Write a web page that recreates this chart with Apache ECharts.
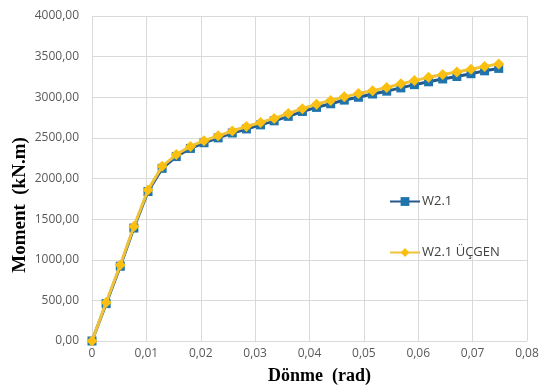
<!DOCTYPE html>
<html>
<head>
<meta charset="utf-8">
<script src="https://cdn.jsdelivr.net/npm/echarts@6/dist/echarts.min.js"></script>
<style>
  html, body { margin: 0; padding: 0; background: #fff; }
  #chart { width: 553px; height: 392px; }
</style>
</head>
<body>
<div id="chart"></div>
<script>
// Rotation (rad) of each load step
const rotation = [0, 0.0026, 0.0052, 0.0077, 0.0103, 0.0129, 0.0155, 0.0181, 0.0206, 0.0232,
  0.0258, 0.0284, 0.031, 0.0335, 0.0361, 0.0387, 0.0413, 0.0439, 0.0464, 0.049,
  0.0516, 0.0542, 0.0568, 0.0593, 0.0619, 0.0645, 0.0671, 0.0697, 0.0722, 0.0748]

// Moment (kN.m)
const w21 = [0, 460, 920, 1390, 1840, 2125, 2270, 2370, 2440, 2500,
  2560, 2610, 2660, 2710, 2765, 2825, 2875, 2920, 2965, 3000,
  3040, 3075, 3115, 3155, 3190, 3225, 3255, 3290, 3325, 3355]
const w21Ucgen = [0, 475, 935, 1410, 1860, 2150, 2295, 2395, 2465, 2525,
  2585, 2640, 2690, 2740, 2800, 2860, 2915, 2960, 3005, 3045,
  3080, 3120, 3165, 3205, 3245, 3280, 3310, 3345, 3380, 3410]

const xTickLabels = ["0", "0,01", "0,02", "0,03", "0,04", "0,05", "0,06", "0,07", "0,08"]
const yTickLabels = ["0,00", "500,00", "1000,00", "1500,00", "2000,00", "2500,00",
  "3000,00", "3500,00", "4000,00"]

const chart = echarts.init(document.getElementById("chart"))

const pairs = (ys) => rotation.map((x, i) => [x, ys[i]])
const tickFont = { color: "#595959", fontSize: 12, fontFamily: "Open Sans" }

chart.setOption({
  backgroundColor: "#fff",
  animation: false,
  grid: { left: 92, right: 26, top: 16, bottom: 51, containLabel: false },
  xAxis: {
    type: "value",
    min: 0,
    max: 0.08,
    interval: 0.01,
    axisLine: { show: false },
    axisTick: { show: false },
    axisLabel: {
      ...tickFont,
      margin: 7,
      formatter: (v) => xTickLabels[Math.round(v / 0.01)],
    },
    splitLine: { show: true, lineStyle: { color: "#d9d9d9" } },
  },
  yAxis: {
    type: "value",
    min: 0,
    max: 4000,
    interval: 500,
    axisLine: { show: false },
    axisTick: { show: false },
    axisLabel: {
      ...tickFont,
      margin: 13,
      formatter: (v) => yTickLabels[Math.round(v / 500)],
    },
    splitLine: { show: true, lineStyle: { color: "#d9d9d9" } },
  },
  legend: {
    orient: "vertical",
    left: 384,
    top: 190,
    itemGap: 38,
    itemWidth: 30,
    itemHeight: 11,
    textStyle: { color: "#404040", fontSize: 13, fontFamily: "Open Sans", padding: [0, 0, 0, -3] },
    data: ["W2.1", "W2.1 ÜÇGEN"],
  },
  series: [
    {
      name: "W2.1",
      type: "line",
      data: pairs(w21),
      symbol: "rect",
      symbolSize: 9,
      lineStyle: { color: "#24598a", width: 3 },
      itemStyle: { color: "#1f74ad" },
      z: 2,
    },
    {
      name: "W2.1 ÜÇGEN",
      type: "line",
      data: pairs(w21Ucgen),
      symbol: "diamond",
      symbolSize: 11,
      lineStyle: { color: "#efc23a", width: 3 },
      itemStyle: { color: "#fbbf10" },
      z: 3,
    },
  ],
  graphic: [
    {
      type: "text",
      left: 268,
      top: 367,
      style: {
        text: "Dönme  (rad)",
        fill: "#000",
        font: "bold 18px 'Liberation Serif'",
      },
    },
    {
      type: "text",
      x: 20,
      y: 205,
      rotation: Math.PI / 2,
      style: {
        text: "Moment  (kN.m)",
        fill: "#000",
        font: "bold 19px 'Liberation Serif'",
        align: "center",
        verticalAlign: "middle",
      },
    },
  ],
})
</script>
</body>
</html>
